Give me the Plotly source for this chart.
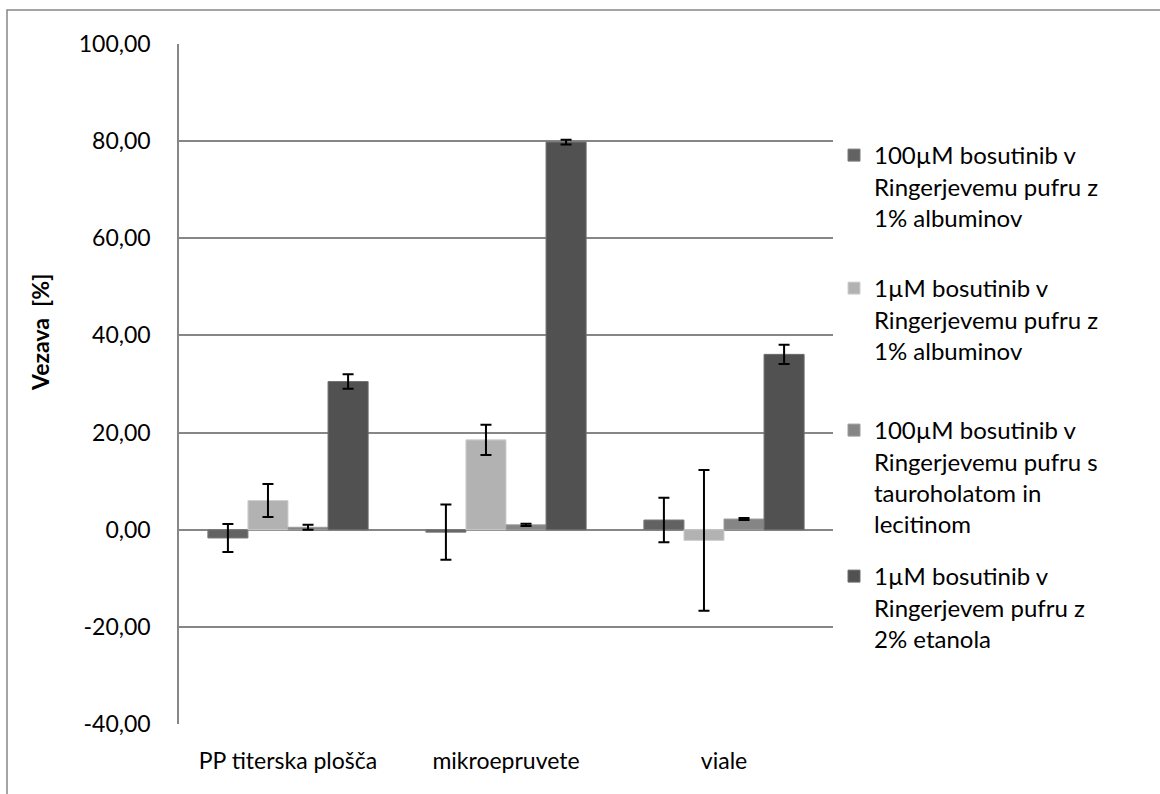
import plotly.graph_objects as go

# Categories (container types)
categories = ["PP titerska plošča", "mikroepruvete", "viale"]

# Series names (legend labels)
series_names = [
    "100µM bosutinib v<br>Ringerjevemu pufru z<br>1% albuminov",
    "1µM bosutinib v<br>Ringerjevemu pufru z<br>1% albuminov",
    "100µM bosutinib v<br>Ringerjevemu pufru s<br>tauroholatom in<br>lecitinom",
    "1µM bosutinib v<br>Ringerjevem pufru z<br>2% etanola",
]

# Binding [%] per series, one value per category
alb_100 = [-1.7, -0.5, 2.0]
alb_1 = [6.0, 18.5, -2.2]
tauro_100 = [0.5, 1.0, 2.2]
etanol_1 = [30.5, 79.8, 36.1]

# Standard deviations
alb_100_sd = [2.9, 5.7, 4.6]
alb_1_sd = [3.4, 3.1, 14.5]
tauro_100_sd = [0.5, 0.25, 0.2]
etanol_1_sd = [1.5, 0.5, 2.0]

# Y axis ticks
ytick_vals = [100, 80, 60, 40, 20, 0, -20, -40]
ytick_labels = ["100,00", "80,00", "60,00", "40,00", "20,00", "0,00", "-20,00", "-40,00"]

y_title = "Vezava\u00a0\u00a0[%]"

values = [alb_100, alb_1, tauro_100, etanol_1]
errors = [alb_100_sd, alb_1_sd, tauro_100_sd, etanol_1_sd]
fills = ["#626262", "#b2b2b2", "#858585", "#515151"]
edges = ["#7a7a7a", "#cfcfcf", "#9c9c9c", "#6e6e6e"]

FONT = "Lato, Carlito, Calibri, sans-serif"
GRID = "#868686"

W, H = 1160, 794
L, R, T, B = 179, 327, 44, 70
plot_w = W - L - R
plot_h = H - T - B


def px_x(x):
    return (x - L) / plot_w


def px_y(y):
    return (H - B - y) / plot_h


# each series gets its own legend block, stacked down the right side
legend_tops = [133, 266, 408, 554]
legend_ids = ["legend", "legend2", "legend3", "legend4"]

fig = go.Figure()
for i, (name, vals, errs) in enumerate(zip(series_names, values, errors)):
    fig.add_trace(go.Bar(
        x=categories,
        y=vals,
        name=name,
        legend=legend_ids[i],
        marker=dict(color=fills[i], line=dict(color=edges[i], width=1)),
        error_y=dict(type="data", array=errs, visible=True,
                     color="black", thickness=2, width=5.5),
    ))

legend_layouts = {
    lid: dict(
        x=px_x(834), y=px_y(top), xanchor="left", yanchor="top",
        valign="top",
        font=dict(family=FONT, size=24, color="black"),
        bgcolor="rgba(0,0,0,0)",
        itemclick=False,
    )
    for lid, top in zip(legend_ids, legend_tops)
}

fig.update_layout(
    width=W,
    height=H,
    margin=dict(l=L, r=R, t=T, b=B, pad=0),
    paper_bgcolor="white",
    plot_bgcolor="white",
    barmode="group",
    bargap=0.265,
    bargroupgap=0,
    separators=",.",
    font=dict(family=FONT, size=23, color="black"),
    showlegend=True,
    **legend_layouts,
    xaxis=dict(
        showgrid=False,
        showline=False,
        ticks="",
        ticklabelstandoff=21,
        tickfont=dict(family=FONT, size=23, color="black"),
    ),
    yaxis=dict(
        range=[-40, 100],
        tickmode="array",
        tickvals=ytick_vals,
        ticktext=ytick_labels,
        showgrid=True,
        gridcolor=GRID,
        gridwidth=1.5,
        zeroline=True,
        zerolinecolor=GRID,
        zerolinewidth=1.5,
        showline=True,
        linecolor=GRID,
        linewidth=1.5,
        ticks="",
        ticklabelstandoff=22,
        tickfont=dict(family=FONT, size=23, color="black"),
    ),
    annotations=[
        dict(text=f"<b>{y_title}</b>", xref="paper", yref="paper",
             x=px_x(40), y=px_y(333), xanchor="center", yanchor="middle",
             textangle=-90, showarrow=False,
             font=dict(family=FONT, size=23, color="black")),
    ],
    shapes=[
        dict(type="rect", xref="paper", yref="paper",
             x0=px_x(7), x1=px_x(W + 20), y0=px_y(H + 20), y1=px_y(10),
             line=dict(color=GRID, width=1.5), fillcolor="rgba(0,0,0,0)",
             layer="below"),
    ],
)

fig.write_html("out.html")
